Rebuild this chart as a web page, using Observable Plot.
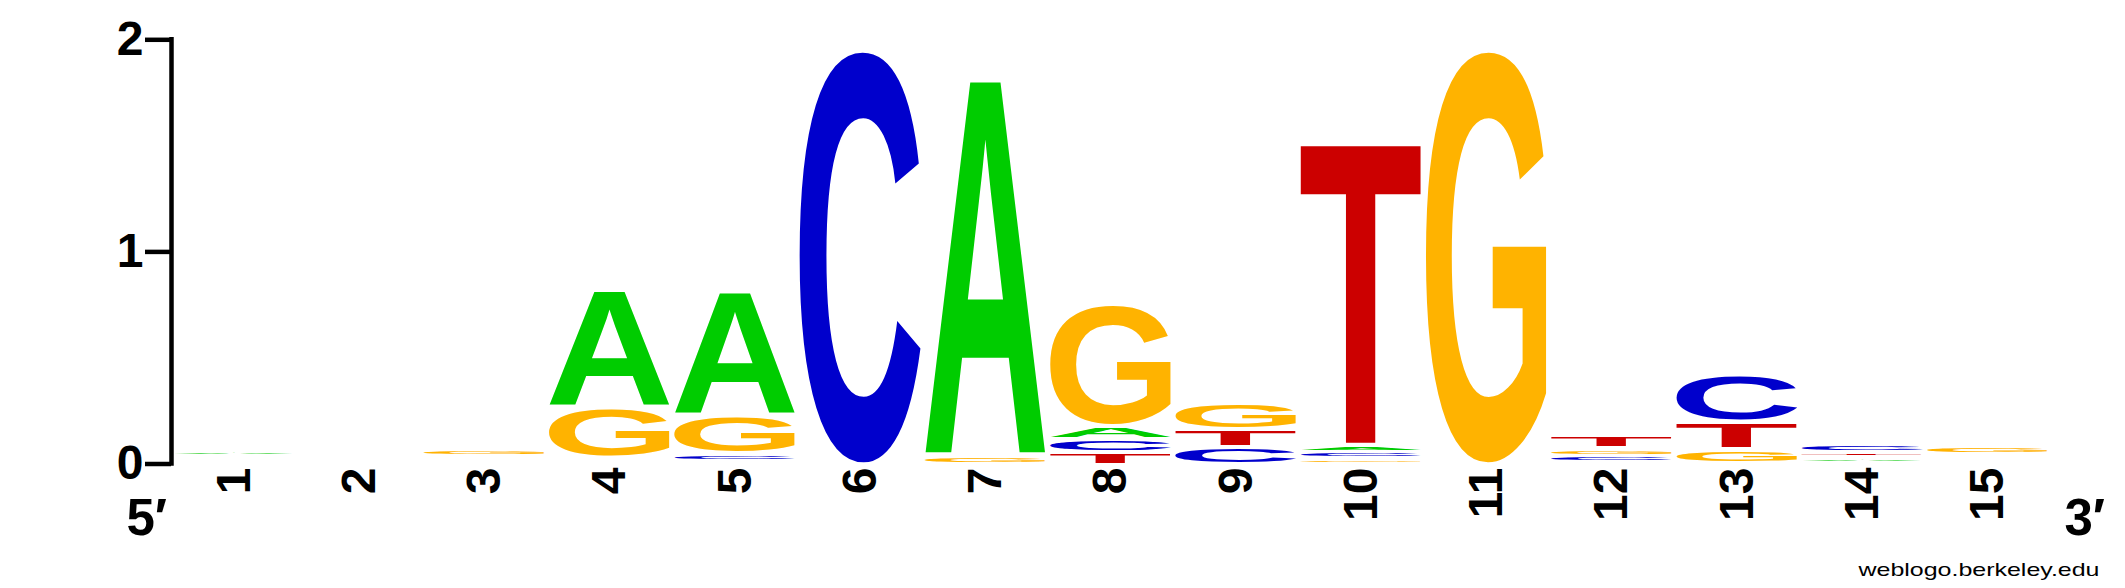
<!DOCTYPE html>
<html>
<head>
<meta charset="utf-8">
<script src="https://cdn.jsdelivr.net/npm/d3@7"></script>
<script src="https://cdn.jsdelivr.net/npm/@observablehq/plot@0.6"></script>
<style>
  body { margin: 0; background: #fff; }
</style>
</head>
<body>
<div id="logo"></div>
<script>
const positions = [1, 2, 3, 4, 5, 6, 7, 8, 9, 10, 11, 12, 13, 14, 15]
const bitsA = [0.025, 0.010, 0.013, 0.555, 0.589, 0, 1.781, 0.062, 0, 0.033, 0, 0.012, 0.008, 0.025, 0.016]
const bitsC = [0.012, 0.010, 0.013, 0.015, 0.033, 1.958, 0, 0.061, 0.082, 0.031, 0, 0.030, 0.226, 0.039, 0.017]
const bitsG = [0.013, 0.010, 0.035, 0.236, 0.181, 0, 0.036, 0.578, 0.126, 0.029, 1.958, 0.034, 0.066, 0.009, 0.038]
const bitsT = [0.013, 0.012, 0.014, 0.017, 0.018, 0, 0, 0.060, 0.084, 1.433, 0, 0.061, 0.130, 0.026, 0.018]

const bases = ['A', 'C', 'G', 'T']
const baseColors = ['#00cc00', '#0000cc', '#ffb300', '#cc0000']
const yTicks = [0, 1, 2]

// apilar: la letra más chica abajo, como weblogo
const columns = { A: bitsA, C: bitsC, G: bitsG, T: bitsT }
const letters = []
positions.forEach((p, i) => {
  const stack = bases
    .map(b => ({ pos: p, base: b, bits: columns[b][i] }))
    .filter(d => d.bits > 0)
    .sort((a, b) => a.bits - b.bits)
  let acc = 0
  for (const d of stack) {
    d.y1 = acc
    acc += d.bits
    d.y2 = acc
    letters.push(d)
  }
})

// caja de tinta de cada letra (para estirarla a su rectángulo)
const ctx = document.createElement('canvas').getContext('2d')
ctx.font = "bold 200px 'Liberation Sans'"
ctx.textAlign = 'start'
ctx.textBaseline = 'alphabetic'
const glyph = {}
for (const b of bases) {
  const m = ctx.measureText(b)
  glyph[b] = {
    left: m.actualBoundingBoxLeft,
    right: m.actualBoundingBoxRight,
    ascent: m.actualBoundingBoxAscent,
    descent: m.actualBoundingBoxDescent,
  }
}

function drawLetters(index, scales, values, dimensions, context) {
  const g = d3.create('svg:g').attr('text-anchor', 'start')
  for (const i of index) {
    const d = letters[i]
    const x1 = values.x1[i], x2 = values.x2[i]
    const top = Math.min(values.y1[i], values.y2[i]) + 3.4
    const bottom = Math.max(values.y1[i], values.y2[i]) - 1
    const h = bottom - top
    if (h <= 0) continue
    const m = glyph[d.base]
    const sx = (x2 - x1) / (m.left + m.right)
    const sy = h / (m.ascent + m.descent)
    g.append('text')
      .attr('text-anchor', 'start')
      .attr('font-family', "'Liberation Sans', Arial, sans-serif")
      .attr('font-weight', 'bold')
      .attr('font-size', 200)
      .attr('fill', values.fill[i])
      .attr('transform', `translate(${x1},${top}) scale(${sx},${sy}) translate(${m.left},${m.ascent})`)
      .text(d.base)
  }
  return g.node()
}

let chart = Plot.plot({
  width: 2125,
  height: 588,
  marginTop: 39.3,
  marginBottom: 124.5,
  marginLeft: 171,
  marginRight: 75,
  style: { fontFamily: "'Liberation Sans', Arial, sans-serif", background: 'white', overflow: 'visible' },
  x: { domain: [0.5, 15.5], axis: null },
  y: { domain: [0, 2], axis: null },
  color: { domain: bases, range: baseColors },
  marks: [
    Plot.rect(letters, {
      x1: d => d.pos - 0.483,
      x2: d => d.pos + 0.483,
      y1: 'y1',
      y2: 'y2',
      fill: 'base',
      render: drawLetters,
    }),
    Plot.ruleX([0.5], { y1: 0, y2: 2, strokeWidth: 4.5, strokeLinecap: 'square' }),
    Plot.axisY(yTicks, {
      anchor: 'left', tickSize: 26, tickPadding: 2, strokeWidth: 4.5,
      tickFormat: d => String(d),
      fontSize: 48, fontWeight: 'bold', label: null,
    }),
    Plot.axisX(positions, {
      anchor: 'bottom', tickSize: 0, tickPadding: 3.5, tickRotate: -90,
      tickFormat: d => String(d),
      fontSize: 48, fontWeight: 'bold', label: null,
      ariaLabel: 'posiciones',
    }),
    Plot.text(["5′"], { text: d => d, frameAnchor: 'bottom-left', dx: -45, dy: 71, textAnchor: 'start', fontSize: 51, fontWeight: 'bold' }),
    Plot.text(["3′"], { text: d => d, frameAnchor: 'bottom-right', dx: 14, dy: 71, textAnchor: 'start', fontSize: 51, fontWeight: 'bold' }),
    Plot.text(['weblogo.berkeley.edu'], { text: d => d, frameAnchor: 'bottom-right', dx: 49, dy: 112, textAnchor: 'end', fontSize: 18.5 }),
  ],
})

// el crédito está estirado a lo ancho en el original
chart.querySelectorAll('text').forEach(t => {
  if (t.textContent === 'weblogo.berkeley.edu') {
    t.setAttribute('textLength', 241)
    t.setAttribute('lengthAdjust', 'spacingAndGlyphs')
  }
})

// los números de posición también salen un poco más anchos
chart.querySelectorAll('g[aria-label="posiciones"] text').forEach(t => {
  const tr = t.getAttribute('transform')
  if (tr && tr.includes('rotate')) t.setAttribute('transform', tr + ' scale(1,1.08)')
})

d3.select('#logo').append(() => chart)
</script>
</body>
</html>
